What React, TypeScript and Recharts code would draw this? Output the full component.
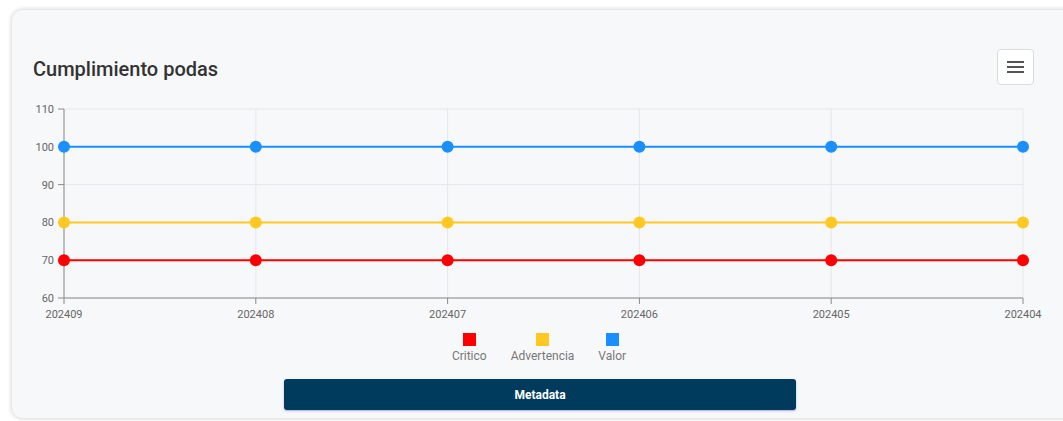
import { LineChart, Line, XAxis, YAxis, CartesianGrid } from "recharts";

const periods = ["202409", "202408", "202407", "202406", "202405", "202404"];
const critico = [70, 70, 70, 70, 70, 70];
const advertencia = [80, 80, 80, 80, 80, 80];
const valor = [100, 100, 100, 100, 100, 100];
const yTicks = [60, 70, 80, 90, 100, 110];

const series = [
  { key: "critico", label: "Critico", color: "#ff0000" },
  { key: "advertencia", label: "Advertencia", color: "#ffc823" },
  { key: "valor", label: "Valor", color: "#1a8fff" },
];

const rows = periods.map((p, i) => ({
  period: p,
  critico: critico[i],
  advertencia: advertencia[i],
  valor: valor[i],
}));

const font = "Roboto, 'Noto Sans', sans-serif";

export default function App() {
  return (
    <div
      style={{
        position: "absolute",
        left: 0,
        top: 0,
        width: 1063,
        height: 421,
        overflow: "hidden",
        background: "#ffffff",
        fontFamily: font,
      }}
    >
      <div
        style={{
          position: "absolute",
          left: 12,
          top: 10,
          width: 1080,
          height: 408,
          borderRadius: 10,
          background: "#f7f8fa",
          boxShadow: "0 0 5px rgba(0,0,0,0.22)",
        }}
      />
      <div
        style={{
          position: "absolute",
          left: 33,
          top: 57,
          fontSize: 20,
          fontWeight: 500,
          color: "#333",
          lineHeight: "24px",
        }}
      >
        Cumplimiento podas
      </div>
      <div
        style={{
          position: "absolute",
          left: 997,
          top: 49,
          width: 35,
          height: 34,
          background: "#fff",
          border: "1px solid #dcdcdc",
          borderRadius: 4,
          display: "flex",
          flexDirection: "column",
          justifyContent: "center",
          alignItems: "center",
          gap: 3,
        }}
      >
        {[0, 1, 2].map((i) => (
          <div key={i} style={{ width: 17, height: 2, background: "#555" }} />
        ))}
      </div>

      <div style={{ position: "absolute", left: 0, top: 0 }}>
        <LineChart
          width={1063}
          height={330}
          data={rows}
          margin={{ top: 109, right: 40, bottom: 2, left: 14 }}
          style={{ overflow: "visible" }}
        >
          <CartesianGrid stroke="#e6e7ea" />
          <XAxis
            dataKey="period"
            stroke="#8a8a8a"
            tickLine={{ stroke: "#8a8a8a" }}
            tick={{ fill: "#666", fontSize: 11, fontFamily: font }}
            tickMargin={6}
            height={30}
            interval={0}
          />
          <YAxis
            domain={[60, 110]}
            ticks={yTicks}
            stroke="#8a8a8a"
            tick={{ fill: "#666", fontSize: 11, fontFamily: font }}
            tickMargin={4}
            width={50}
            interval={0}
          />
          {series.map((s) => (
            <Line
              key={s.key}
              type="linear"
              dataKey={s.key}
              stroke={s.color}
              strokeWidth={2}
              dot={{ r: 6, fill: s.color, stroke: s.color, strokeWidth: 0 }}
              activeDot={false}
              isAnimationActive={false}
            />
          ))}
        </LineChart>
      </div>

      <div
        style={{
          position: "absolute",
          left: 0,
          top: 333,
          width: 1078,
          display: "flex",
          justifyContent: "center",
          gap: 24,
        }}
      >
        {series.map((s) => (
          <div
            key={s.key}
            style={{ display: "flex", flexDirection: "column", alignItems: "center" }}
          >
            <div style={{ width: 13, height: 13, background: s.color }} />
            <div style={{ fontSize: 12, color: "#777", marginTop: 3, lineHeight: "14px" }}>
              {s.label}
            </div>
          </div>
        ))}
      </div>

      <div
        style={{
          position: "absolute",
          left: 284,
          top: 379,
          width: 512,
          height: 31,
          background: "#003b5e",
          borderRadius: 3,
          boxShadow: "0 1px 2px rgba(60,60,200,0.4)",
          color: "#fff",
          fontWeight: 700,
          fontSize: 12,
          display: "flex",
          alignItems: "center",
          justifyContent: "center",
        }}
      >
        Metadata
      </div>
    </div>
  );
}
